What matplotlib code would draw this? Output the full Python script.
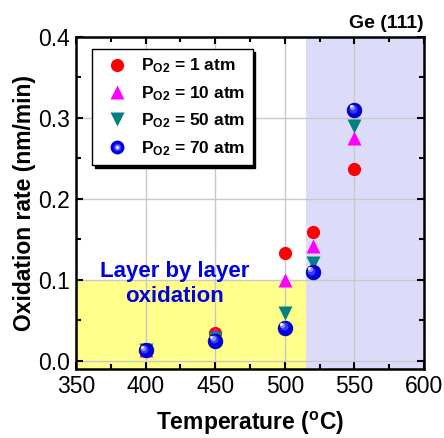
"""Oxidation rate of Ge(111) versus temperature for several O2 pressures."""

import matplotlib

matplotlib.use("Agg")
import matplotlib.pyplot as plt
from matplotlib.lines import Line2D
from matplotlib.ticker import MultipleLocator, FormatStrFormatter

plt.rcParams["font.family"] = ["Liberation Sans", "DejaVu Sans"]
plt.rcParams["mathtext.fontset"] = "custom"
plt.rcParams["mathtext.rm"] = "Liberation Sans"
plt.rcParams["mathtext.bf"] = "Liberation Sans:bold"

temps = [400, 450, 500, 520, 550]
rate_1atm = [0.013, 0.035, 0.133, 0.159, 0.237]
rate_10atm = [0.013, 0.033, 0.100, 0.142, 0.275]
rate_50atm = [0.013, 0.028, 0.059, 0.121, 0.290]
rate_70atm = [0.013, 0.025, 0.041, 0.110, 0.310]
labels = ["1", "10", "50", "70"]

lbl_boundary = 515
lbl_top = 0.1

fig = plt.figure(figsize=(4.44, 4.38), dpi=100)
ax = fig.add_axes([0.171, 0.1575, 0.784, 0.758])

ax.axvspan(lbl_boundary, 600, color="#dcdcfa", lw=0, zorder=0.5)
ax.fill_between([350, lbl_boundary], -0.01, lbl_top, color="#ffff8c", lw=0, zorder=0.5)

ms = 9.5
h1, = ax.plot(temps, rate_1atm, "o", color="#ff0000", ms=ms, mec="none", zorder=3)
h2, = ax.plot(temps, rate_10atm, "^", color="#ff00ff", ms=ms + 1, mec="none", zorder=3)
h3, = ax.plot(temps, rate_50atm, "v", color="#008080", ms=ms + 1, mec="none", zorder=3)

# blue balls: base disc plus lighter discs nudged up-left for a highlight
ax.plot(temps, rate_70atm, "o", color="#0000e0", ms=ms + 1, mec="#0000a0", mew=0.6, zorder=3)
shades = [(0.55, "#3a3aff"), (0.36, "#9090ff"), (0.2, "#f4f4ff")]
for i, (frac, col) in enumerate(shades, start=1):
    ax.plot([t - 0.9 * i for t in temps], [r + 0.0016 * i for r in rate_70atm], "o",
            color=col, ms=(ms + 1) * frac, mec="none", zorder=3.1)

ax.set_xlim(350, 600)
ax.set_ylim(-0.01, 0.4)
ax.xaxis.set_major_locator(MultipleLocator(50))
ax.xaxis.set_minor_locator(MultipleLocator(25))
ax.yaxis.set_major_locator(MultipleLocator(0.1))
ax.yaxis.set_minor_locator(MultipleLocator(0.05))
ax.yaxis.set_major_formatter(FormatStrFormatter("%.1f"))
ax.grid(True, which="major", color="#c8c8c8", lw=1.0)
ax.tick_params(which="both", direction="in", top=True, right=True, labelsize=16.5, width=1.5)
ax.tick_params(which="major", length=5, pad=4)
ax.tick_params(which="minor", length=3.5)
for sp in ax.spines.values():
    sp.set_linewidth(1.8)

ax.set_xlabel(r"Temperature ($\mathbf{^o}$C)", fontsize=16.5, fontweight="bold", labelpad=9)
ax.set_ylabel("Oxidation rate (nm/min)", fontsize=16.5, fontweight="bold", labelpad=2)
ax.text(1.0, 1.015, "Ge (111)", transform=ax.transAxes, ha="right", va="bottom",
        fontsize=14, fontweight="bold")
ax.text(421, 0.095, "Layer by layer\noxidation", ha="center", va="center", color="#0000e0",
        fontsize=16, fontweight="bold", linespacing=1.3, zorder=4)

ball_handle = tuple(Line2D([], [], ls="none", marker="o", color=c, ms=ms * f, mec="none")
                    for f, c in [(1.05, "#0000e0"), (0.58, "#3a3aff"), (0.36, "#9090ff"),
                                 (0.2, "#f4f4ff")])
handles = [h1, h2, h3, ball_handle]
texts = [r"$\mathbf{P_{O2}}$ = %s atm" % p for p in labels]
leg = ax.legend(handles, texts, loc="upper left", bbox_to_anchor=(0.046, 0.964),
                frameon=True, fancybox=False, shadow={"color": "black", "alpha": 1},
                edgecolor="black", framealpha=1, borderpad=0.45, labelspacing=0.5,
                handletextpad=0.35, borderaxespad=0, handlelength=2.0,
                prop={"size": 12.5, "weight": "bold"})
leg.get_frame().set_linewidth(1.0)

fig.savefig("out.png", dpi=100)
